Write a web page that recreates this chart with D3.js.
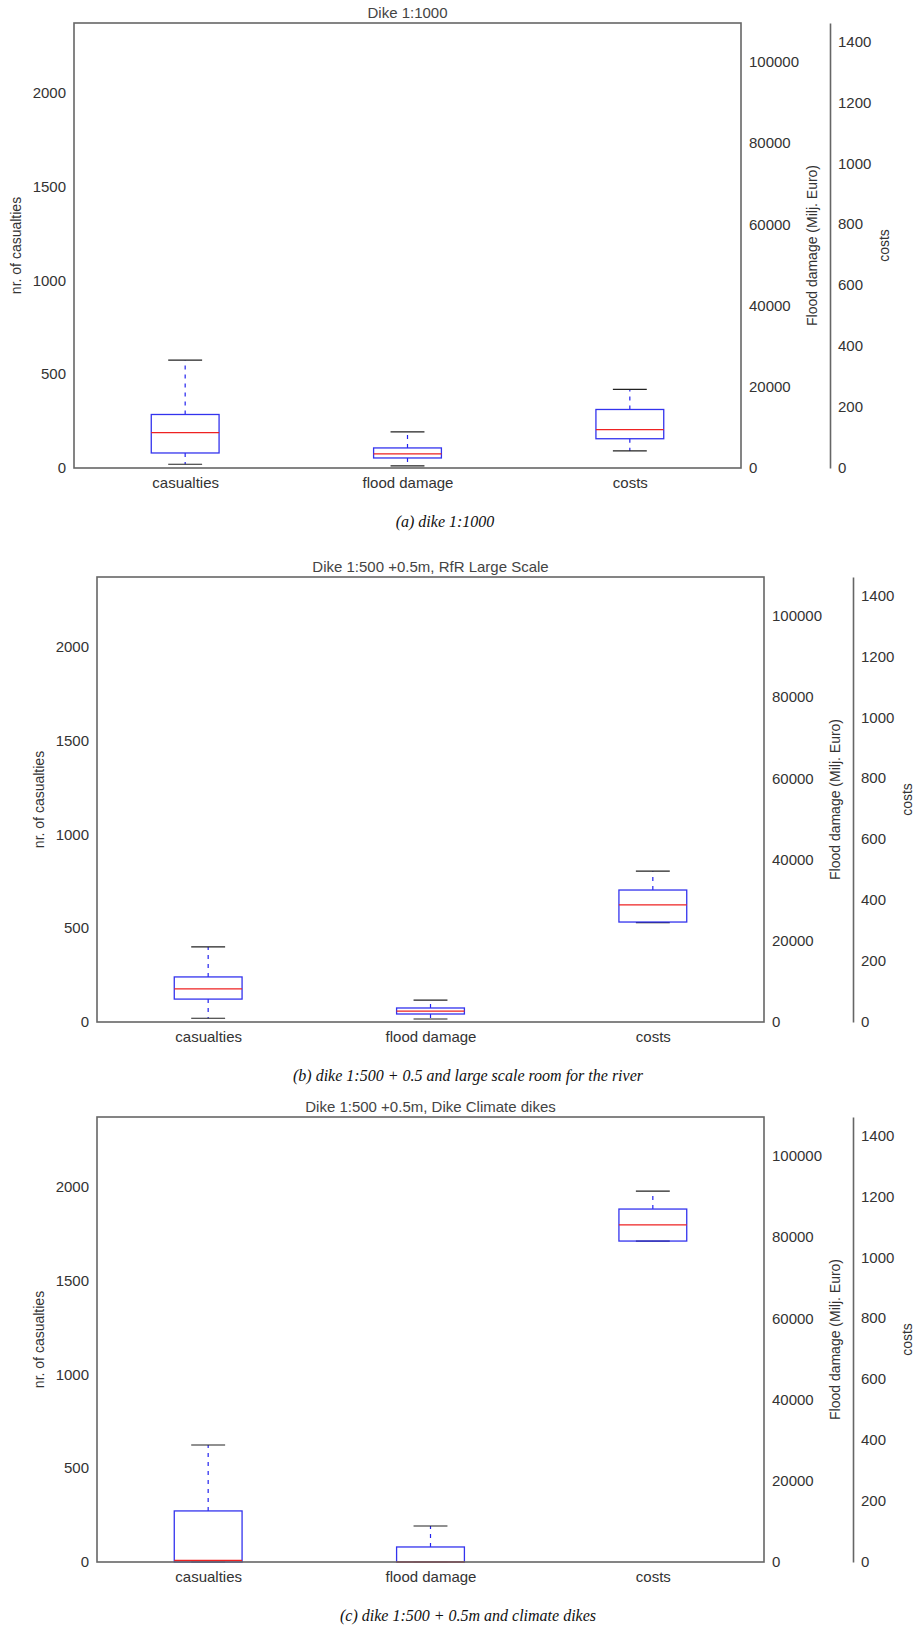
<!DOCTYPE html>
<html>
<head>
<meta charset="utf-8">
<title>dike strategies boxplots</title>
<script src="https://d3js.org/d3.v7.min.js"></script>
<style>
  html, body { margin: 0; padding: 0; background: #fff; }
  svg { display: block; }
  .tick text { font-family: "Liberation Sans", Arial, sans-serif; font-size: 15px; fill: #333; }
  .ttl { font-family: "Liberation Sans", Arial, sans-serif; font-size: 15px; fill: #444; }
  .lbl { font-family: "Liberation Sans", Arial, sans-serif; font-size: 14px; fill: #333; }
  .cap { font-family: "Liberation Serif", "Times New Roman", serif; font-style: italic; font-size: 16px; fill: #111; }
</style>
</head>
<body>
<div id="chart"></div>
<script>
// categories on the x axis
const categories = ['casualties', 'flood damage', 'costs']

const titles = [
  'Dike 1:1000',
  'Dike 1:500 +0.5m, RfR Large Scale',
  'Dike 1:500 +0.5m, Dike Climate dikes'
]
const captions = [
  '(a) dike 1:1000',
  '(b) dike 1:500 + 0.5 and large scale room for the river',
  '(c) dike 1:500 + 0.5m and climate dikes'
]

// box stats per panel: [lower whisker, q1, median, q3, upper whisker]
const casualtiesStats = [
  [20, 80, 188, 285, 575],
  [20, 122, 176, 240, 400],
  [0, 0, 8, 272, 623]
]
const floodStats = [
  [500, 2470, 3460, 4940, 8900],
  [740, 1970, 2700, 3450, 5400],
  [0, 0, 0, 3700, 8870]
]
const costsStats = [
  [56, 96, 126, 192, 258],
  [326, 328, 384, 433, 495],
  [1053, 1053, 1106, 1158, 1217]
]

// axis ticks and upper limits
const casualtyTicks = [0, 500, 1000, 1500, 2000]
const floodTicks = [0, 20000, 40000, 60000, 80000, 100000]
const costTicks = [0, 200, 400, 600, 800, 1000, 1200, 1400]
const casualtyMax = 2370
const floodMax = 109600
const costMax = 1460

const W = 914, H = 1629
const plotW = 667, plotH = 445
const panelPos = [{left: 74, top: 23}, {left: 97, top: 577}, {left: 97, top: 1117}]
const fmt = d3.format('d')

const svg = d3.select('#chart').append('svg')
  .attr('width', W).attr('height', H)

svg.append('rect').attr('width', W).attr('height', H).attr('fill', '#fff')

function drawBox(g, x, cat, stats, y, bw) {
  const [lo, q1, med, q3, hi] = stats
  const cx = x(cat)
  const cw = bw / 2
  // whiskers
  g.append('line')
    .attr('x1', cx).attr('x2', cx).attr('y1', y(q3)).attr('y2', y(hi))
    .attr('stroke', '#2222ee').attr('stroke-width', 1.2).attr('stroke-dasharray', '4,5')
  g.append('line')
    .attr('x1', cx).attr('x2', cx).attr('y1', y(q1)).attr('y2', y(lo))
    .attr('stroke', '#2222ee').attr('stroke-width', 1.2).attr('stroke-dasharray', '4,5')
  // caps
  ;[lo, hi].forEach(v => {
    g.append('line')
      .attr('x1', cx - cw / 2).attr('x2', cx + cw / 2).attr('y1', y(v)).attr('y2', y(v))
      .attr('stroke', '#222').attr('stroke-width', 1.2)
  })
  // box
  g.append('rect')
    .attr('x', cx - bw / 2).attr('width', bw)
    .attr('y', y(q3)).attr('height', Math.max(0, y(q1) - y(q3)))
    .attr('fill', 'none').attr('stroke', '#3333ee').attr('stroke-width', 1.3)
  // median
  g.append('line')
    .attr('x1', cx - bw / 2).attr('x2', cx + bw / 2).attr('y1', y(med)).attr('y2', y(med))
    .attr('stroke', '#ee2222').attr('stroke-width', 1.3)
}

panelPos.forEach((p, i) => {
  const g = svg.append('g').attr('transform', `translate(${p.left},${p.top})`)

  const x = d3.scalePoint().domain(categories).range([0, plotW]).padding(0.5)
  const yCas = d3.scaleLinear().domain([0, casualtyMax]).range([plotH, 0])
  const yFlood = d3.scaleLinear().domain([0, floodMax]).range([plotH, 0])
  const yCost = d3.scaleLinear().domain([0, costMax]).range([plotH, 0])
  const bw = x.step() * 0.305

  // left axis
  g.append('g')
    .call(d3.axisLeft(yCas).tickValues(casualtyTicks).tickFormat(fmt).tickSize(0).tickPadding(8))
    .call(a => a.select('.domain').remove())

  // flood damage axis at right frame
  g.append('g')
    .attr('transform', `translate(${plotW},0)`)
    .call(d3.axisRight(yFlood).tickValues(floodTicks).tickFormat(fmt).tickSize(0).tickPadding(8))
    .call(a => a.select('.domain').remove())

  // costs axis, offset spine
  const costAx = g.append('g')
    .attr('transform', `translate(${plotW + 89},0)`)
    .call(d3.axisRight(yCost).tickValues(costTicks).tickFormat(fmt).tickSize(0).tickPadding(8))
  costAx.select('.domain').attr('stroke', '#666').attr('stroke-width', 1.6)

  // bottom axis
  g.append('g')
    .attr('transform', `translate(0,${plotH})`)
    .call(d3.axisBottom(x).tickSize(0).tickPadding(9))
    .call(a => a.select('.domain').remove())

  // boxes
  drawBox(g, x, categories[0], casualtiesStats[i], yCas, bw)
  drawBox(g, x, categories[1], floodStats[i], yFlood, bw)
  drawBox(g, x, categories[2], costsStats[i], yCost, bw)

  // frame
  g.append('rect')
    .attr('width', plotW).attr('height', plotH)
    .attr('fill', 'none').attr('stroke', '#666').attr('stroke-width', 1.6)

  // title
  g.append('text').attr('class', 'ttl')
    .attr('x', plotW / 2).attr('y', -5).attr('text-anchor', 'middle')
    .text(titles[i])

  // axis labels
  g.append('text').attr('class', 'lbl')
    .attr('transform', `translate(-53,${plotH / 2}) rotate(-90)`)
    .attr('text-anchor', 'middle')
    .text('nr. of casualties')
  g.append('text').attr('class', 'lbl')
    .attr('transform', `translate(${plotW + 76},${plotH / 2}) rotate(-90)`)
    .attr('text-anchor', 'middle')
    .text('Flood damage (Milj. Euro)')
  g.append('text').attr('class', 'lbl')
    .attr('transform', `translate(${plotW + 89 + 59},${plotH / 2}) rotate(-90)`)
    .attr('text-anchor', 'middle')
    .text('costs')

  // caption
  g.append('text').attr('class', 'cap')
    .attr('x', plotW / 2 + 37.5).attr('y', plotH + 59).attr('text-anchor', 'middle')
    .text(captions[i])
})
</script>
</body>
</html>
